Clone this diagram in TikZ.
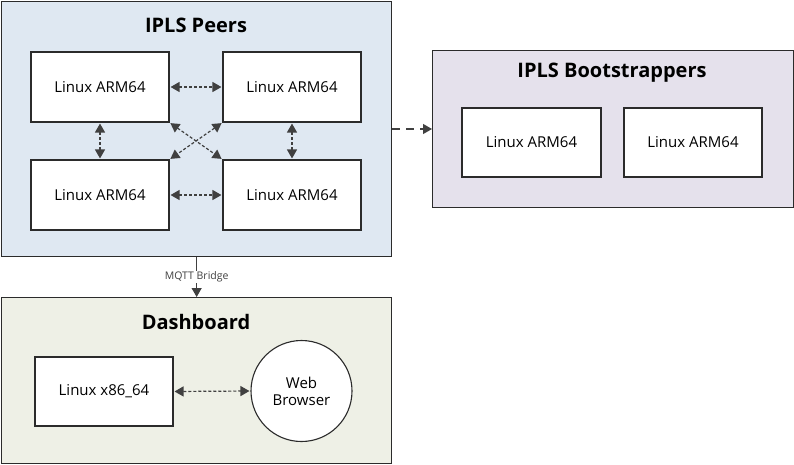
\documentclass[tikz,border=0pt]{standalone}
\usepackage{fontspec}
\setmainfont{Open Sans}
\usetikzlibrary{arrows.meta}
\definecolor{peerfill}{HTML}{DFE8F2}
\definecolor{bootfill}{HTML}{E5E1EC}
\definecolor{dashfill}{HTML}{EEF0E6}
\definecolor{edge}{HTML}{2B2B2B}
\definecolor{arr}{HTML}{404040}
\begin{document}
\begin{tikzpicture}[x=1pt,y=-1pt,
  container/.style={draw=edge,line width=1.3pt,anchor=north west,inner sep=0pt},
  hostbox/.style={draw=edge,fill=white,line width=1.1pt,minimum width=138pt,minimum height=70pt,inner sep=0pt,font=\fontsize{15}{18}\selectfont},
  titletext/.style={font=\bfseries\fontsize{20}{24}\selectfont},
  biarrow/.style={arr,line width=1.2pt,dash pattern=on 3pt off 2pt,{Triangle[length=9pt,width=10pt]}-{Triangle[length=9pt,width=10pt]}, shorten <=1pt, shorten >=1pt},
  onearrow/.style={arr,line width=1.2pt,-{Triangle[length=9pt,width=10pt]}}
]
\useasboundingbox (0,0) rectangle (794,464);
% containers
\node[container,fill=peerfill,minimum width=390pt,minimum height=255pt] (peers) at (1,1) {};
\node[container,fill=bootfill,minimum width=361pt,minimum height=157pt] (boot) at (432,50) {};
\node[container,fill=dashfill,minimum width=390pt,minimum height=166pt] (dash) at (1,297) {};
% titles
\node[titletext] (tpeers) at (196,25) {IPLS Peers};
\node[titletext] (tboot) at (612,73) {IPLS Bootstrappers};
\node[titletext] (tdash) at (196,322) {Dashboard};
% peers
\node[hostbox] (p1) at (100,87) {Linux ARM64};
\node[hostbox] (p2) at (292,87) {Linux ARM64};
\node[hostbox] (p3) at (100,195) {Linux ARM64};
\node[hostbox] (p4) at (292,195) {Linux ARM64};
% bootstrappers
\node[hostbox,minimum width=139pt,minimum height=69pt] (b1) at (531.5,142.5) {Linux ARM64};
\node[hostbox,minimum width=138pt,minimum height=69pt] (b2) at (693,142.5) {Linux ARM64};
% dashboard
\node[hostbox,minimum height=69pt] (x86) at (104,391.5) {Linux x86\_64};
\node[draw=edge,fill=white,line width=1.1pt,circle,minimum size=101pt,inner sep=0pt,align=center,font=\fontsize{15}{17}\selectfont] (web) at (301.5,391) {Web\\Browser};
% peer arrows
\draw[biarrow] (p1.east) -- (p2.west);
\draw[biarrow] (p3.east) -- (p4.west);
\draw[biarrow] (p1.south) -- (p3.north);
\draw[biarrow] (p2.south) -- (p4.north);
\draw[biarrow] (p1.south east) -- (p4.north west);
\draw[biarrow] (p2.south west) -- (p3.north east);
% dashboard arrow
\draw[biarrow] (x86.east) -- (web.west);
% bootstrapper arrow
\coordinate (bstart) at (peers.east |- 0,129);
\draw[onearrow,dash pattern=on 8pt off 6pt] (bstart) -- (bstart -| boot.west);
% MQTT
\draw[onearrow] (peers.south) -- node[fill=white,inner sep=1pt,font=\fontsize{10.5}{12}\selectfont] (mqtt) {MQTT Bridge} (dash.north);
\end{tikzpicture}
\end{document}
